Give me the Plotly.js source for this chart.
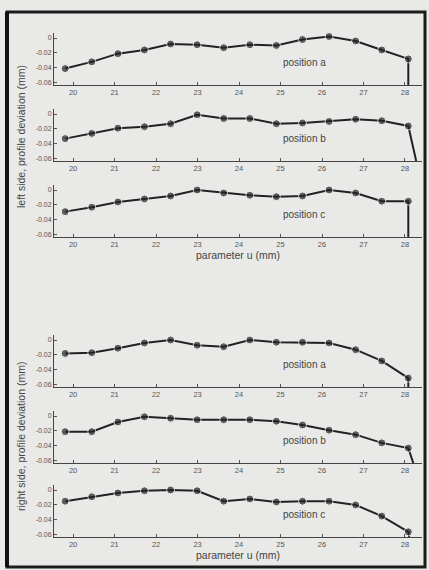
<!DOCTYPE html>
<html>
<head>
<meta charset="utf-8">
<script src="https://cdn.plot.ly/plotly-3.0.1.min.js"></script>
<style>html,body{margin:0;padding:0;background:#e9e9e7;}#chart{width:429px;height:570px;}</style>
</head>
<body>
<div id="chart"></div>
<script>
// parameter u (mm) of the measured points
const uPoints = [19.81, 20.45, 21.08, 21.72, 22.35, 22.99, 23.63, 24.26, 24.90, 25.53, 26.17, 26.81, 27.44, 28.08];
// profile deviation (mm)
const leftA  = [-0.041, -0.032, -0.021, -0.016, -0.008, -0.009, -0.013, -0.009, -0.010, -0.002, 0.002, -0.004, -0.016, -0.028];
const leftB  = [-0.033, -0.026, -0.019, -0.017, -0.013, -0.001, -0.006, -0.006, -0.013, -0.012, -0.010, -0.007, -0.009, -0.016];
const leftC  = [-0.029, -0.023, -0.016, -0.012, -0.008, 0.000, -0.004, -0.007, -0.009, -0.008, 0.000, -0.004, -0.015, -0.015];
const rightA = [-0.018, -0.017, -0.011, -0.004, 0.000, -0.007, -0.009, 0.000, -0.003, -0.003, -0.004, -0.013, -0.028, -0.051];
const rightB = [-0.021, -0.021, -0.008, -0.001, -0.003, -0.005, -0.005, -0.005, -0.007, -0.012, -0.019, -0.025, -0.036, -0.043];
const rightC = [-0.015, -0.009, -0.004, -0.001, 0.000, -0.001, -0.015, -0.012, -0.016, -0.015, -0.015, -0.020, -0.035, -0.056];
// end of each curve (drop to the axis)
const tailU   = [28.08, 28.27, 28.08, 28.08, 28.20, 28.10];
const tailDev = [-0.063, -0.063, -0.063, -0.063, -0.063, -0.063];

const positionLabels = ["position a", "position b", "position c", "position a", "position b", "position c"];
const sideTitles = ["left side, profile deviation (mm)", "right side, profile deviation (mm)"];
const xTitle = "parameter u (mm)";
const xTicks = [20, 21, 22, 23, 24, 25, 26, 27, 28];
const yTicks = [0, -0.02, -0.04, -0.06];
const yTickText = ["0", "-0.02", "-0.04", "-0.06"];

const series = [leftA, leftB, leftC, rightA, rightB, rightC];

const W = 429, H = 570;
const axisBottomPx = [85, 161, 237, 387, 463, 537];
const plotHeightPx = 52;
const xLeftPx = 54, xRightPx = 422;
const ink = '#222';

const data = [];
const layout = {
  width: W, height: H,
  margin: {l: 0, r: 0, t: 0, b: 0},
  paper_bgcolor: '#e9e9e7',
  plot_bgcolor: 'rgba(0,0,0,0)',
  showlegend: false,
  font: {family: 'Liberation Sans, Arial, sans-serif', color: '#444'},
  annotations: [],
  shapes: []
};

series.forEach((vals, i) => {
  const n = i + 1;
  const xa = n === 1 ? 'x' : 'x' + n;
  const ya = n === 1 ? 'y' : 'y' + n;
  const xs = uPoints.concat([tailU[i]]);
  const ys = vals.concat([tailDev[i]]);
  const sizes = uPoints.map(() => 8).concat([0]);
  data.push({
    x: xs, y: ys, xaxis: xa, yaxis: ya,
    mode: 'lines+markers', type: 'scatter',
    line: {color: ink, width: 2},
    marker: {color: ink, size: sizes},
    cliponaxis: false, hoverinfo: 'skip'
  });
  const bottom = 1 - axisBottomPx[i] / H;
  const top = 1 - (axisBottomPx[i] - plotHeightPx) / H;
  const xKey = n === 1 ? 'xaxis' : 'xaxis' + n;
  const yKey = n === 1 ? 'yaxis' : 'yaxis' + n;
  const hasTitle = (i === 2 || i === 5);
  layout[xKey] = {
    domain: [xLeftPx / W, xRightPx / W], anchor: ya,
    range: [19.54, 28.41],
    tickvals: xTicks, ticktext: xTicks.map(String),
    ticks: 'inside', ticklen: 3, tickcolor: '#555', tickwidth: 1,
    showline: true, linecolor: '#444', linewidth: 1,
    showgrid: false, zeroline: false,
    tickfont: {size: 7.5, color: '#555'},
    title: hasTitle ? {text: xTitle, font: {size: 10.5, color: '#444'}, standoff: 2} : {text: ''}
  };
  layout[yKey] = {
    domain: [bottom, top], anchor: xa,
    range: [-0.063, 0.0067],
    tickvals: yTicks, ticktext: yTickText,
    ticks: 'inside', ticklen: 3, tickcolor: '#555', tickwidth: 1,
    showline: true, linecolor: '#444', linewidth: 1,
    showgrid: false, zeroline: false,
    tickfont: {size: 7, color: '#555'}
  };
  layout.annotations.push({
    text: positionLabels[i], xref: 'paper', yref: 'paper',
    x: 304 / W, y: 1 - (axisBottomPx[i] - 23) / H,
    showarrow: false, xanchor: 'center', yanchor: 'middle',
    font: {size: 10, color: '#444'}
  });
});

// side titles
layout.annotations.push({
  text: sideTitles[0], xref: 'paper', yref: 'paper',
  x: 21 / W, y: 1 - 137 / H, textangle: -90, showarrow: false,
  xanchor: 'center', yanchor: 'middle', font: {size: 10.5, color: '#444'}
});
layout.annotations.push({
  text: sideTitles[1], xref: 'paper', yref: 'paper',
  x: 21 / W, y: 1 - 437 / H, textangle: -90, showarrow: false,
  xanchor: 'center', yanchor: 'middle', font: {size: 10.5, color: '#444'}
});

// outer frame
layout.shapes.push({
  type: 'rect', xref: 'paper', yref: 'paper',
  x0: 7 / W, x1: 425 / W, y0: 1 - 567 / H, y1: 1 - 12 / H,
  line: {color: '#1c1c1c', width: 3}
});
layout.shapes.push({
  type: 'line', xref: 'paper', yref: 'paper',
  x0: 7 / W, x1: 7 / W, y0: 1 - 567 / H, y1: 1 - 12 / H,
  line: {color: '#111', width: 4}
});

Plotly.newPlot('chart', data, layout, {staticPlot: true});
</script>
</body>
</html>
